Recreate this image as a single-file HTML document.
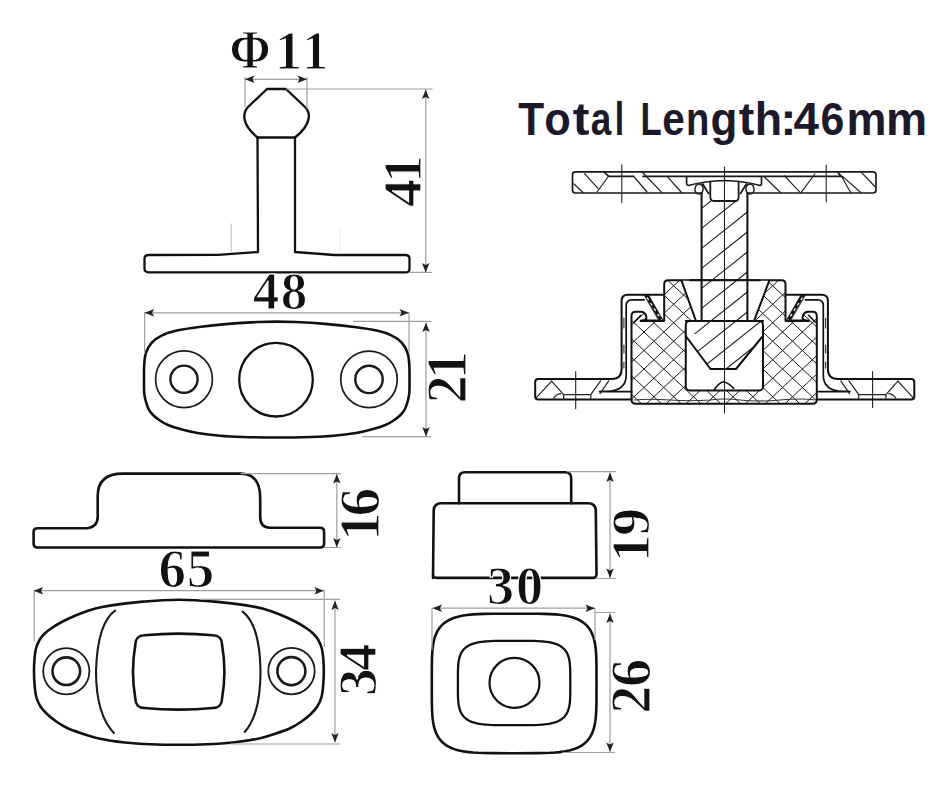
<!DOCTYPE html>
<html><head><meta charset="utf-8">
<style>
html,body{margin:0;padding:0;background:#fff;width:950px;height:800px;overflow:hidden}
svg{display:block}
.o{fill:none;stroke:#111;stroke-width:2.6;stroke-linejoin:round;stroke-linecap:round}
.t{fill:none;stroke:#1a1a1a;stroke-width:1.6}
.d{fill:none;stroke:#a0a0a0;stroke-width:1.2}
.a{fill:#222}
.n{font-family:"Liberation Serif",serif;font-weight:bold;fill:#111;stroke:#fff;stroke-width:1.2}
</style></head><body>
<svg width="950" height="800" viewBox="0 0 950 800">
<!-- ===== T view (41 / phi11) ===== -->
<path class="o" style="stroke-width:2.4" d="M267,89 L286,89 L305,107 Q310,112 308.5,119 Q307,128 295,137.5 L257.5,137.5 Q246,128 244.5,119 Q243.5,112 248,107 Z"/>
<path class="o" style="stroke-width:2.3" d="M257.5,137.5 L258,252 L218,254.8 L148.5,255 Q144.5,255 144.5,259 L144.5,268.3 Q144.5,272.3 148.5,272.3 L405.5,272.4 Q409.5,272.4 409.5,268.4 L409.5,259 Q409.5,255 405.5,255 L334,255 L295,252 L295,137.5"/>
<!-- phi dim -->
<path class="d" d="M245,79.3 H307 M245,77 V107 M307,77 V108.5 M286,89 H432.5 M409.5,272.4 H432 M425.7,89 V272.5"/>
<path class="a" d="M245.0,79.3 l9.5,-3.7 l-2.0,3.7 l2.0,3.7 z M307.0,79.3 l-9.5,-3.7 l2.0,3.7 l-2.0,3.7 z M425.7,89.5 l-3.7,9.5 l3.7,-2.0 l3.7,2.0 z M425.7,272.4 l-3.7,-9.5 l3.7,2.0 l3.7,-2.0 z"/>
<text class="n" font-size="54.84" transform="translate(229.42,67.63) scale(0.906,1)">Φ</text>
<text class="n" font-size="55.82" transform="translate(274.79,69.13) scale(0.984,1)">1</text>
<text class="n" font-size="55.82" transform="translate(302.27,69.13) scale(0.934,1)">1</text>
<text class="n" font-size="55.93" text-anchor="middle" letter-spacing="-3.99" transform="translate(420.55,182.97) rotate(-90)">41</text>

<path d="M231.3,223.5 V252.6" stroke="#a9b6ee" stroke-width="0.9" fill="none"/>
<path d="M340,228 V252" stroke="#e4eaf6" stroke-width="1" fill="none"/>
<!-- ===== oval plate (48 / 21) ===== -->
<path class="o" id="ov21" d="M276.75,321.60 C270.47,321.60 265.96,321.62 257.90,322.00 C249.84,322.38 238.22,323.07 228.40,323.90 C218.58,324.73 207.60,325.88 199.00,327.00 C190.40,328.12 182.95,329.20 176.80,330.60 C170.65,332.00 166.27,333.40 162.10,335.40 C157.93,337.40 154.50,339.67 151.80,342.60 C149.10,345.53 147.17,349.27 145.90,353.00 C144.63,356.73 144.52,360.62 144.20,365.00 C143.88,369.38 144.00,374.58 144.00,379.25 C144.00,383.92 143.91,389.38 144.20,393.00 C144.49,396.62 145.03,398.33 145.75,401.00 C146.47,403.67 147.29,406.67 148.50,409.00 C149.71,411.33 151.08,413.08 153.00,415.00 C154.92,416.92 157.50,418.83 160.00,420.50 C162.50,422.17 164.33,423.50 168.00,425.00 C171.67,426.50 177.08,428.17 182.00,429.50 C186.92,430.83 191.17,431.95 197.50,433.00 C203.83,434.05 212.50,435.13 220.00,435.80 C227.50,436.47 233.04,436.72 242.50,437.00 C251.96,437.28 265.33,437.50 276.75,437.50 C288.17,437.50 301.54,437.28 311.00,437.00 C320.46,436.72 326.00,436.47 333.50,435.80 C341.00,435.13 349.67,434.05 356.00,433.00 C362.33,431.95 366.58,430.83 371.50,429.50 C376.42,428.17 381.83,426.50 385.50,425.00 C389.17,423.50 391.00,422.17 393.50,420.50 C396.00,418.83 398.58,416.92 400.50,415.00 C402.42,413.08 403.79,411.33 405.00,409.00 C406.21,406.67 407.03,403.67 407.75,401.00 C408.47,398.33 409.01,396.62 409.30,393.00 C409.59,389.38 409.50,383.92 409.50,379.25 C409.50,374.58 409.62,369.38 409.30,365.00 C408.98,360.62 408.87,356.73 407.60,353.00 C406.33,349.27 404.40,345.53 401.70,342.60 C399.00,339.67 395.57,337.40 391.40,335.40 C387.23,333.40 382.85,332.00 376.70,330.60 C370.55,329.20 363.10,328.12 354.50,327.00 C345.90,325.88 334.92,324.73 325.10,323.90 C315.28,323.07 303.66,322.38 295.60,322.00 C287.54,321.62 283.03,321.60 276.75,321.60 Z"/>
<circle class="t" cx="184" cy="379.2" r="28.4" style="stroke-width:1.7"/>
<circle class="t" cx="184" cy="379.2" r="13.6" style="stroke-width:2.4"/>
<circle class="o" cx="276" cy="379.7" r="36.8" style="stroke-width:2.3"/>
<circle class="t" cx="369" cy="379.4" r="28.25" style="stroke-width:1.7"/>
<circle class="t" cx="369" cy="379.4" r="13.7" style="stroke-width:2.4"/>
<path class="d" d="M144.6,312.8 H409 M144.6,312 V354 M409,312 V353 M353,321.4 H431.5 M362,436.7 H431 M426,322.5 V436.5"/>
<path class="a" d="M144.6,312.8 l9.5,-3.7 l-2.0,3.7 l2.0,3.7 z M409.0,312.8 l-9.5,-3.7 l2.0,3.7 l-2.0,3.7 z M426.0,322.5 l-3.7,9.5 l3.7,-2.0 l3.7,2.0 z M426.0,436.5 l-3.7,-9.5 l3.7,2.0 l3.7,-2.0 z"/>
<text class="n" x="252.85" y="309.45" font-size="53.07" letter-spacing="1.47">48</text>
<text class="n" font-size="56.31" text-anchor="middle" letter-spacing="-3.74" transform="translate(465.60,379.15) rotate(-90)">21</text>

<!-- ===== side profile (16) ===== -->
<path class="o" d="M37.6,528.2 L87,528.2 Q97.7,527 97.7,516.8 L97.7,496 Q97.7,473.6 123,473.6 L240.7,473.6 Q260.2,473.6 260.2,498 L260.2,516.8 Q260.2,527.8 270,527.8 L320,527.8 Q324.1,527.8 324.1,532 L324.1,543.5 Q324.1,547.5 320,547.5 L37.6,547.5 Q33.6,547.5 33.6,543.5 L33.6,532 Q33.6,528.2 37.6,528.2 Z"/>
<path class="d" d="M240.7,473.6 H341 M324.1,547.5 H341 M336.8,474 V547.5"/>
<path class="a" d="M336.8,474.0 l-3.7,9.5 l3.7,-2.0 l3.7,2.0 z M336.8,547.5 l-3.7,-9.5 l3.7,2.0 l3.7,-2.0 z"/>
<text class="n" font-size="57.46" text-anchor="middle" letter-spacing="-4.37" transform="translate(378.95,516.57) rotate(-90)">16</text>

<!-- ===== oval 65 / 34 ===== -->
<path class="o" id="ov65" d="M178.90,599.70 C165.93,599.70 151.48,600.92 140.00,601.90 C128.52,602.88 117.43,604.48 110.00,605.60 C102.57,606.72 100.73,607.12 95.40,608.60 C90.07,610.08 83.62,612.27 78.00,614.50 C72.38,616.73 66.20,619.67 61.70,622.00 C57.20,624.33 53.83,626.58 51.00,628.50 C48.17,630.42 46.62,631.58 44.70,633.50 C42.78,635.42 40.95,637.50 39.50,640.00 C38.05,642.50 36.85,645.17 36.00,648.50 C35.15,651.83 34.73,656.00 34.40,660.00 C34.07,664.00 33.97,668.33 34.00,672.50 C34.03,676.67 34.22,680.92 34.60,685.00 C34.98,689.08 35.32,693.42 36.30,697.00 C37.28,700.58 38.63,703.58 40.50,706.50 C42.37,709.42 44.75,711.92 47.50,714.50 C50.25,717.08 53.72,719.75 57.00,722.00 C60.28,724.25 63.05,726.08 67.20,728.00 C71.35,729.92 76.65,731.75 81.90,733.50 C87.15,735.25 91.52,737.00 98.70,738.50 C105.88,740.00 116.28,741.53 125.00,742.50 C133.72,743.47 142.02,743.92 151.00,744.30 C159.98,744.68 169.60,744.80 178.90,744.80 C188.20,744.80 197.82,744.68 206.80,744.30 C215.78,743.92 224.08,743.47 232.80,742.50 C241.52,741.53 251.92,740.00 259.10,738.50 C266.28,737.00 270.65,735.25 275.90,733.50 C281.15,731.75 286.45,729.92 290.60,728.00 C294.75,726.08 297.52,724.25 300.80,722.00 C304.08,719.75 307.55,717.08 310.30,714.50 C313.05,711.92 315.43,709.42 317.30,706.50 C319.17,703.58 320.52,700.58 321.50,697.00 C322.48,693.42 322.82,689.08 323.20,685.00 C323.58,680.92 323.77,676.67 323.80,672.50 C323.83,668.33 323.73,664.00 323.40,660.00 C323.07,656.00 322.65,651.83 321.80,648.50 C320.95,645.17 319.75,642.50 318.30,640.00 C316.85,637.50 315.02,635.42 313.10,633.50 C311.18,631.58 309.63,630.42 306.80,628.50 C303.97,626.58 300.60,624.33 296.10,622.00 C291.60,619.67 285.42,616.73 279.80,614.50 C274.18,612.27 267.73,610.08 262.40,608.60 C257.07,607.12 255.23,606.72 247.80,605.60 C240.37,604.48 229.28,602.88 217.80,601.90 C206.32,600.92 191.87,599.70 178.90,599.70 Z"/>
<circle class="t" cx="66.3" cy="671.2" r="23.1" style="stroke-width:1.8"/>
<circle class="t" cx="66.3" cy="671.2" r="13.8" style="stroke-width:2.6"/>
<circle class="t" cx="291.5" cy="671.1" r="23.2" style="stroke-width:1.8"/>
<circle class="t" cx="291.4" cy="671.1" r="14.0" style="stroke-width:2.6"/>
<path class="t" style="stroke-width:2.1" d="M115.8,610.2 C104,618 97,638 96,671 C96,702 103,722 114.5,733.7 M242,611.2 C253,619 260,638 260.5,671 C260.5,702 254,722 244.3,732.5"/>
<path class="o" id="r65" d="M144.40,635.20 C164.98,633.28 192.42,633.28 213.00,635.20 C218.40,635.20 222.00,638.80 222.00,644.20 C224.88,660.64 224.88,682.56 222.00,699.00 C222.00,704.40 218.40,708.00 213.00,708.00 C192.42,709.92 164.98,709.92 144.40,708.00 C139.00,708.00 135.40,704.40 135.40,699.00 C132.52,682.56 132.52,660.64 135.40,644.20 C135.40,638.80 139.00,635.20 144.40,635.20 Z"/>
<path class="d" d="M33.6,590.7 H323.9 M34.2,590 V641.5 M324.3,590 V647 M200,599.4 H340 M230,744 H340 M335,600.4 V742.5"/>
<path class="a" d="M33.6,590.7 l9.5,-3.7 l-2.0,3.7 l2.0,3.7 z M323.9,590.7 l-9.5,-3.7 l2.0,3.7 l-2.0,3.7 z M335.0,600.4 l-3.7,9.5 l3.7,-2.0 l3.7,2.0 z M335.0,742.5 l-3.7,-9.5 l3.7,2.0 l3.7,-2.0 z"/>
<text class="n" x="158.45" y="587.05" font-size="55.11" letter-spacing="0.66">65</text>
<text class="n" font-size="55.49" text-anchor="middle" letter-spacing="-3.04" transform="translate(376.00,671.25) rotate(-90)">34</text>

<!-- ===== 19 view ===== -->
<path class="o" d="M459,503.2 L459,478.2 Q459,472.2 465,472.2 L565.2,472.2 Q571.2,472.2 571.2,478.2 L571.2,503.2"/>
<path class="o" d="M433,577.9 L433.7,511 Q433.7,503.2 441.5,503.2 L588,503.2 Q595.8,503.2 595.8,511 L596.5,574 Q596.5,577.9 592.6,577.9 L436.9,577.9 Q433,577.9 433,574 Z"/>
<path class="d" d="M567,471.6 H616 M597,578.5 H616 M610,472.6 V578"/>
<path class="a" d="M610.0,472.6 l-3.7,9.5 l3.7,-2.0 l3.7,2.0 z M610.0,578.0 l-3.7,-9.5 l3.7,2.0 l3.7,-2.0 z"/>
<text class="n" font-size="55.70" text-anchor="middle" letter-spacing="-1.43" transform="translate(649.40,535.80) rotate(-90)">19</text>

<!-- ===== 26 view ===== -->
<path class="o" id="o26" d="M596.50,683.45 L596.45,702.25 L596.30,709.02 L596.05,714.03 L595.70,718.15 L595.24,721.70 L594.68,724.84 L594.02,727.65 L593.26,730.21 L592.38,732.55 L591.40,734.71 L590.31,736.69 L589.10,738.53 L587.77,740.22 L586.32,741.79 L584.74,743.24 L583.03,744.58 L581.18,745.81 L579.18,746.93 L577.01,747.95 L574.67,748.88 L572.12,749.71 L569.36,750.45 L566.34,751.10 L563.01,751.66 L559.31,752.13 L555.12,752.52 L550.26,752.82 L544.33,753.03 L536.34,753.16 L514.15,753.20 L491.96,753.16 L483.97,753.03 L478.04,752.82 L473.18,752.52 L468.99,752.13 L465.29,751.66 L461.96,751.10 L458.94,750.45 L456.18,749.71 L453.63,748.88 L451.29,747.95 L449.12,746.93 L447.12,745.81 L445.27,744.58 L443.56,743.24 L441.98,741.79 L440.53,740.22 L439.20,738.53 L437.99,736.69 L436.90,734.71 L435.92,732.55 L435.04,730.21 L434.28,727.65 L433.62,724.84 L433.06,721.70 L432.60,718.15 L432.25,714.03 L432.00,709.02 L431.85,702.25 L431.80,683.45 L431.85,664.65 L432.00,657.88 L432.25,652.87 L432.60,648.75 L433.06,645.20 L433.62,642.06 L434.28,639.25 L435.04,636.69 L435.92,634.35 L436.90,632.19 L437.99,630.21 L439.20,628.37 L440.53,626.68 L441.98,625.11 L443.56,623.66 L445.27,622.32 L447.12,621.09 L449.12,619.97 L451.29,618.95 L453.63,618.02 L456.18,617.19 L458.94,616.45 L461.96,615.80 L465.29,615.24 L468.99,614.77 L473.18,614.38 L478.04,614.08 L483.97,613.87 L491.96,613.74 L514.15,613.70 L536.34,613.74 L544.33,613.87 L550.26,614.08 L555.12,614.38 L559.31,614.77 L563.01,615.24 L566.34,615.80 L569.36,616.45 L572.12,617.19 L574.67,618.02 L577.01,618.95 L579.18,619.97 L581.18,621.09 L583.03,622.32 L584.74,623.66 L586.32,625.11 L587.77,626.68 L589.10,628.37 L590.31,630.21 L591.40,632.19 L592.38,634.35 L593.26,636.69 L594.02,639.25 L594.68,642.06 L595.24,645.20 L595.70,648.75 L596.05,652.87 L596.30,657.88 L596.45,664.65 Z"/>
<path class="o" id="m26" d="M570.30,683.00 L570.26,693.69 L570.16,697.74 L569.98,700.79 L569.73,703.30 L569.40,705.48 L569.00,707.41 L568.53,709.15 L567.99,710.74 L567.36,712.19 L566.66,713.53 L565.88,714.77 L565.02,715.92 L564.08,716.98 L563.05,717.97 L561.93,718.87 L560.72,719.71 L559.41,720.49 L557.99,721.19 L556.46,721.84 L554.81,722.42 L553.02,722.95 L551.08,723.41 L548.97,723.82 L546.65,724.18 L544.07,724.48 L541.17,724.72 L537.81,724.91 L533.76,725.04 L528.35,725.12 L514.10,725.15 L499.85,725.12 L494.44,725.04 L490.39,724.91 L487.03,724.72 L484.13,724.48 L481.55,724.18 L479.23,723.82 L477.12,723.41 L475.18,722.95 L473.39,722.42 L471.74,721.84 L470.21,721.19 L468.79,720.49 L467.48,719.71 L466.27,718.87 L465.15,717.97 L464.12,716.98 L463.18,715.92 L462.32,714.77 L461.54,713.53 L460.84,712.19 L460.21,710.74 L459.67,709.15 L459.20,707.41 L458.80,705.48 L458.47,703.30 L458.22,700.79 L458.04,697.74 L457.94,693.69 L457.90,683.00 L457.94,672.31 L458.04,668.26 L458.22,665.21 L458.47,662.70 L458.80,660.52 L459.20,658.59 L459.67,656.85 L460.21,655.26 L460.84,653.81 L461.54,652.47 L462.32,651.23 L463.18,650.08 L464.12,649.02 L465.15,648.03 L466.27,647.13 L467.48,646.29 L468.79,645.51 L470.21,644.81 L471.74,644.16 L473.39,643.58 L475.18,643.05 L477.12,642.59 L479.23,642.18 L481.55,641.82 L484.13,641.52 L487.03,641.28 L490.39,641.09 L494.44,640.96 L499.85,640.88 L514.10,640.85 L528.35,640.88 L533.76,640.96 L537.81,641.09 L541.17,641.28 L544.07,641.52 L546.65,641.82 L548.97,642.18 L551.08,642.59 L553.02,643.05 L554.81,643.58 L556.46,644.16 L557.99,644.81 L559.41,645.51 L560.72,646.29 L561.93,647.13 L563.05,648.03 L564.08,649.02 L565.02,650.08 L565.88,651.23 L566.66,652.47 L567.36,653.81 L567.99,655.26 L568.53,656.85 L569.00,658.59 L569.40,660.52 L569.73,662.70 L569.98,665.21 L570.16,668.26 L570.26,672.31 Z" style="stroke-width:2.3"/>
<circle class="o" cx="514.5" cy="682.8" r="25" style="stroke-width:2.2"/>
<path class="d" d="M432.5,608.2 H595 M432,608.2 V650 M595,608.2 V640 M595,612.5 H615 M562.5,752.5 H615 M610,613.5 V752"/>
<path class="a" d="M432.5,608.2 l9.5,-3.7 l-2.0,3.7 l2.0,3.7 z M595.0,608.2 l-9.5,-3.7 l2.0,3.7 l-2.0,3.7 z M610.0,613.5 l-3.7,9.5 l3.7,-2.0 l3.7,2.0 z M610.0,752.0 l-3.7,-9.5 l3.7,2.0 l3.7,-2.0 z"/>
<text class="n" x="487.10" y="603.90" font-size="54.25" letter-spacing="1.75">30</text>
<text class="n" font-size="56.29" text-anchor="middle" letter-spacing="-1.51" transform="translate(649.60,687.00) rotate(-90)">26</text>

<!-- ===== Total length ===== -->
<g font-family="Liberation Sans" font-weight="bold" font-size="46" fill="#1c1a2a">
<text transform="translate(518.34,135) scale(0.922,1)">T</text>
<text transform="translate(544.35,135) scale(0.943,1)">o</text>
<text transform="translate(572.65,135) scale(1.095,1)">t</text>
<text transform="translate(590.69,135) scale(0.804,1)">a</text>
<text transform="translate(614.81,135) scale(0.736,1)">l</text>
<text transform="translate(640.53,135) scale(0.756,1)">L</text>
<text transform="translate(662.16,135) scale(0.881,1)">e</text>
<text transform="translate(686.11,135) scale(0.831,1)">n</text>
<text transform="translate(710.39,135) scale(0.957,1)">g</text>
<text transform="translate(738.84,135) scale(1.014,1)">t</text>
<text transform="translate(754.74,135) scale(0.973,1)">h</text>
<text transform="translate(780.32,135) scale(1.062,1)">:</text>
<text transform="translate(793.60,135) scale(0.994,1)">4</text>
<text transform="translate(820.47,135) scale(0.930,1)">6</text>
<text transform="translate(846.57,135) scale(0.977,1)">m</text>
<text transform="translate(885.98,135) scale(1.006,1)">m</text>
</g>

<!-- CROSS_SECTION -->
<defs>
<clipPath id="cRub"><path d="M631.5,399.5 V316 Q631.5,311.7 636,311.7 H641 Q646,312 646.5,318 Q646,321 641,320.5 L664.2,320.5 V284.3 Q664.2,280.3 668.2,280.3 H781.5 Q785.5,280.3 785.5,284.3 V320.5 L808,320.5 Q803,321 802.5,318 Q803,312 808,311.7 H812.5 Q816.8,311.7 816.8,316 V399.5 Q816.8,403.8 812.5,403.8 H636 Q631.5,403.8 631.5,399.5 Z"/></clipPath>
<clipPath id="cShaft"><rect x="701.6" y="200.4" width="45.8" height="120.1"/></clipPath>
<clipPath id="cPlug"><path d="M685.75,321 H763 V336.75 L736,369 H710.5 L685.75,336 Z"/></clipPath>
</defs>
<g id="xsec" fill="none" stroke-linejoin="round" stroke-linecap="round">
<!-- top plate -->
<path d="M701.8,193 H575.5 Q572.5,193 572.5,190 V174.8 Q572.5,171.8 575.5,171.8 H873 Q876,171.8 876,174.8 V190 Q876,193 873,193 H747.7" stroke="#1a1a1a" stroke-width="1.7"/>
<path d="M604,172 L608.7,176.4 H632.5 M643,176.4 H841 L838,172.5 M686.6,176.4 V183.5 Q686.6,185.6 689.5,185.3 Q705,181 724.5,180.5 Q744,181 759,185.3 Q761.5,185.6 761.5,183.5 V176.4" stroke="#1a1a1a" stroke-width="1.7"/>
<path d="M574,184 L583,192.5 M584.5,173.7 L598,188.4 M608.7,176 L597,192 M633.4,176 L647,192 M642,172 L662,192.6 M667,176.4 L682,193 M764,176.5 L781,193 M784.5,175.8 L800.3,192.6 M814.8,174 L801,192.6 M840.7,175 L850.8,192.8 M842.6,176.4 L861,192.8 M861.6,172.6 L874.8,186.5" stroke="#222" stroke-width="1.2"/>
<!-- center marks -->
<path d="M621.8,164.7 V202.6 M826.2,165 V201.7 M575.7,371.6 V408.6 M872.6,371.6 V407.5" stroke="#222" stroke-width="1.1"/>
<!-- rubber body crosshatch -->
<path d="M620,402.1L830,598.3M620,383.6L830,579.8M620,365.1L830,561.3M620,346.6L830,542.8M620,328.1L830,524.3M620,309.6L830,505.8M620,291.1L830,487.3M620,272.6L830,468.8M620,254.1L830,450.3M620,235.6L830,431.8M620,217.1L830,413.3M620,198.6L830,394.8M620,180.1L830,376.3M620,161.6L830,357.8M620,143.1L830,339.3M620,124.6L830,320.8M620,106.1L830,302.3M620,87.6L830,283.8M620,69.1L830,265.3M620,261.9L830,65.7M620,280.4L830,84.2M620,298.9L830,102.7M620,317.4L830,121.2M620,335.9L830,139.7M620,354.4L830,158.2M620,372.9L830,176.7M620,391.4L830,195.2M620,409.9L830,213.7M620,428.4L830,232.2M620,446.9L830,250.7M620,465.4L830,269.2M620,483.9L830,287.7M620,502.4L830,306.2M620,520.9L830,324.7M620,539.4L830,343.2M620,557.9L830,361.7M620,576.4L830,380.2M620,594.9L830,398.7M620,613.4L830,417.2" clip-path="url(#cRub)" stroke="#1c1c1c" stroke-width="1.0"/>
<path d="M631.5,399.5 V316 Q631.5,311.7 636,311.7 H641 Q646,312 646.5,318 Q646,321 641,320.5 L664.2,320.5 V284.3 Q664.2,280.3 668.2,280.3 H781.5 Q785.5,280.3 785.5,284.3 V320.5 L808,320.5 Q803,321 802.5,318 Q803,312 808,311.7 H812.5 Q816.8,311.7 816.8,316 V399.5 Q816.8,403.8 812.5,403.8 H636 Q631.5,403.8 631.5,399.5 Z" stroke="#111" stroke-width="2"/>
<path d="M634,400 Q650,398.5 670,400 T710,400 Q724,398 740,400 T780,400 T814,400" stroke="#333" stroke-width="1.1"/>
<!-- cone + shaft whites -->
<path d="M681.6,280.8 L747.4,280.8 L769.2,280.8 L754.2,320.5 L695.8,320.5 Z" fill="#fff" stroke="none"/>
<path d="M681.6,280.8 L695.8,320.5 M769.2,280.8 L754.2,320.5" stroke="#111" stroke-width="2"/>
<!-- shaft -->
<path d="M695.0,33.6L770.0,-26.0M695.0,53.6L770.0,-6.0M695.0,73.6L770.0,14.0M695.0,93.6L770.0,34.0M695.0,113.6L770.0,54.0M695.0,133.6L770.0,74.0M695.0,153.6L770.0,94.0M695.0,173.6L770.0,114.0M695.0,193.6L770.0,134.0M695.0,213.6L770.0,154.0M695.0,233.6L770.0,174.0M695.0,253.6L770.0,194.0M695.0,273.6L770.0,214.0M695.0,293.6L770.0,234.0M695.0,313.6L770.0,254.0M695.0,333.6L770.0,274.0M695.0,353.6L770.0,294.0M695.0,373.6L770.0,314.0M695.0,393.6L770.0,334.0M695.0,413.6L770.0,354.0M695.0,433.6L770.0,374.0M695.0,453.6L770.0,394.0" clip-path="url(#cShaft)" stroke="#1c1c1c" stroke-width="1.1"/>
<path d="M701.6,193 V320.5 M747.4,193 V320.5" stroke="#111" stroke-width="2"/>
<path d="M690,280.3 H760" stroke="#111" stroke-width="1.9"/>
<path d="M710.3,181.5 V197 Q710.3,201 714,201 H735.3 Q738.6,201 738.6,197 V181.5 M702.7,184 L708.4,193.4 M746.3,184 L740.6,193.4" stroke="#1a1a1a" stroke-width="1.8"/>
<path d="M695,190 Q695,184 699.5,184 Q703.5,185 703,190 Q702,194 699,194 Q695,193.5 695,190 Z M754,190 Q754,184 749.5,184 Q745.5,185 746,190 Q747,194 750,194 Q754,193.5 754,190 Z" stroke="#222" stroke-width="1.5"/>
<!-- cavity -->
<rect x="685.75" y="321" width="77.25" height="69.5" rx="4" fill="#fff" stroke="#111" stroke-width="2"/>
<path d="M695.0,33.6L770.0,-26.0M695.0,53.6L770.0,-6.0M695.0,73.6L770.0,14.0M695.0,93.6L770.0,34.0M695.0,113.6L770.0,54.0M695.0,133.6L770.0,74.0M695.0,153.6L770.0,94.0M695.0,173.6L770.0,114.0M695.0,193.6L770.0,134.0M695.0,213.6L770.0,154.0M695.0,233.6L770.0,174.0M695.0,253.6L770.0,194.0M695.0,273.6L770.0,214.0M695.0,293.6L770.0,234.0M695.0,313.6L770.0,254.0M695.0,333.6L770.0,274.0M695.0,353.6L770.0,294.0M695.0,373.6L770.0,314.0M695.0,393.6L770.0,334.0M695.0,413.6L770.0,354.0M695.0,433.6L770.0,374.0M695.0,453.6L770.0,394.0" clip-path="url(#cPlug)" stroke="#1c1c1c" stroke-width="1.1"/>
<path d="M685.75,336 L710.5,369 H736 L762.25,336.75" stroke="#111" stroke-width="2"/>
<path d="M685.75,321 H763" stroke="#111" stroke-width="2"/>
<path d="M714,390.5 Q718,383 723.5,381.75 Q729,383 733.75,388.5" stroke="#111" stroke-width="1.6"/>
<path d="M724.5,167 V413" stroke="#222" stroke-width="1.1"/>
<!-- housing left -->
<g id="hL">
<path d="M664.2,294.8 H628 Q621.6,294.8 621.6,301 V369 Q621.6,379 611.5,379 H538.2 Q535.2,379 535.2,382 V396.4 Q535.2,399.4 538.2,399.4 H631.5" stroke="#111" stroke-width="2"/>
<path d="M644.1,299.8 H632 Q626.2,299.8 626.2,305.5 V375 Q626.2,391.3 606,391.3 H600.6 M599.5,391.6 H631.5" stroke="#111" stroke-width="1.7"/>
<path d="M623.9,318 V328 M623.9,345 V353 M623.9,362 V368" stroke="#333" stroke-width="1.1"/>
<path d="M644.6,295.5 L648.9,295.5 L663.6,321.3 L659.6,321.3 Z" fill="#111" stroke="#111" stroke-width="0.8"/>
<path d="M647,297.5 L661.5,320" stroke="#fff" stroke-width="1.2" stroke-dasharray="3 3.5" stroke-linecap="butt"/>
<path d="M640.3,321.3 H663.7 M634,322.3 L641,315.3" stroke="#111" stroke-width="1.6"/>
<path d="M551.4,380.8 L563.6,394.7 H590.8 L600.6,380.8 M536.4,397.6 L551.4,381.4 M553.7,398.2 Q556,394 560.7,393.6 M600,393.6 L608.7,380.8 M563.6,394.7 V399.4 M590.8,394.7 V399.4" stroke="#222" stroke-width="1.2"/>
</g>
<use href="#hL" transform="translate(1449.5,0) scale(-1,1)"/>
</g>

</svg>
</body></html>
